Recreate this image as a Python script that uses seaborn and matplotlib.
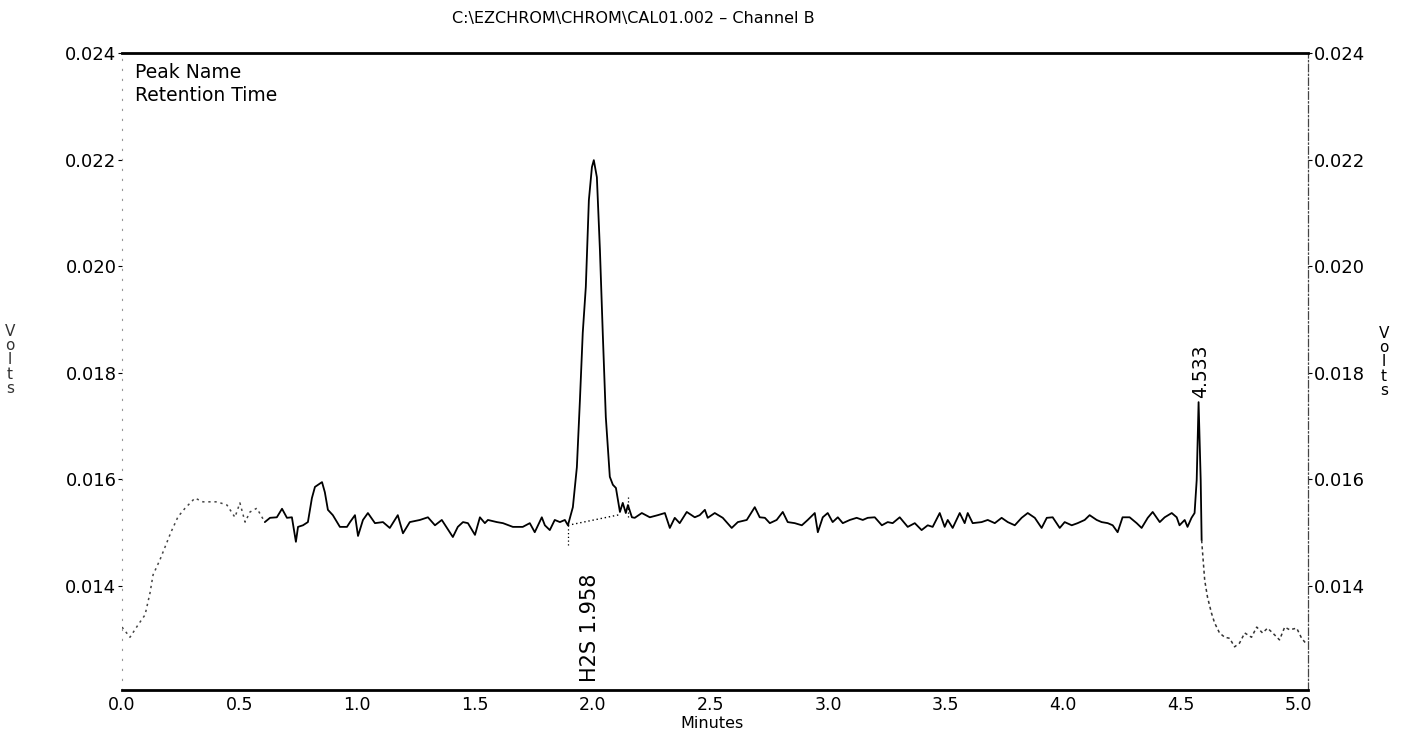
import matplotlib
matplotlib.use("Agg")
import matplotlib.pyplot as plt
import seaborn as sns
import numpy as np
import pandas as pd

# ---------------- data ----------------
time_min = [
    0.000, 0.034, 0.068, 0.098, 0.119, 0.132, 0.161, 0.208, 0.238, 0.268,
    0.310, 0.344, 0.404, 0.446, 0.480, 0.501, 0.523, 0.544, 0.573, 0.607,
    0.629, 0.658, 0.680, 0.701, 0.722, 0.739, 0.748, 0.769, 0.790, 0.807,
    0.820, 0.850, 0.862, 0.875, 0.896, 0.926, 0.956, 0.969, 0.990, 1.003,
    1.024, 1.045, 1.075, 1.109, 1.138, 1.172, 1.194, 1.223, 1.266, 1.300,
    1.330, 1.359, 1.381, 1.406, 1.427, 1.449, 1.470, 1.500, 1.521, 1.542,
    1.555, 1.593, 1.619, 1.661, 1.703, 1.733, 1.754, 1.784, 1.797, 1.818,
    1.839, 1.861, 1.882, 1.895, 1.916, 1.933, 1.946, 1.958, 1.971, 1.984,
    1.997, 2.005, 2.018, 2.031, 2.043, 2.056, 2.073, 2.086, 2.099, 2.116,
    2.128, 2.141, 2.150, 2.167, 2.179, 2.209, 2.243, 2.277, 2.307, 2.328,
    2.349, 2.370, 2.400, 2.434, 2.455, 2.477, 2.489, 2.519, 2.553, 2.591,
    2.617, 2.655, 2.689, 2.710, 2.732, 2.753, 2.782, 2.808, 2.829, 2.859,
    2.889, 2.914, 2.944, 2.957, 2.978, 2.999, 3.020, 3.042, 3.063, 3.093,
    3.122, 3.148, 3.169, 3.199, 3.229, 3.254, 3.275, 3.305, 3.339, 3.369,
    3.398, 3.424, 3.445, 3.475, 3.496, 3.509, 3.530, 3.560, 3.581, 3.594,
    3.615, 3.653, 3.679, 3.709, 3.738, 3.764, 3.794, 3.823, 3.849, 3.879,
    3.908, 3.930, 3.955, 3.985, 4.006, 4.036, 4.061, 4.091, 4.112, 4.142,
    4.163, 4.189, 4.210, 4.231, 4.252, 4.282, 4.312, 4.333, 4.359, 4.380,
    4.410, 4.431, 4.461, 4.482, 4.494, 4.516, 4.528, 4.545, 4.558, 4.567,
    4.575, 4.584, 4.588, 4.601, 4.613, 4.630, 4.643, 4.664, 4.686, 4.707,
    4.728, 4.749, 4.771, 4.800, 4.822, 4.847, 4.868, 4.890, 4.919, 4.941,
    4.962, 4.992, 5.013, 5.030,
]
signal_volts = [
    0.01323, 0.01304, 0.01327, 0.01346, 0.01387, 0.01421, 0.01449, 0.01501, 0.01530, 0.01546,
    0.01565, 0.01558, 0.01558, 0.01552, 0.01529, 0.01556, 0.01520, 0.01539, 0.01546, 0.01520,
    0.01528, 0.01529, 0.01545, 0.01528, 0.01529, 0.01483, 0.01511, 0.01514, 0.01520, 0.01565,
    0.01586, 0.01595, 0.01576, 0.01543, 0.01533, 0.01511, 0.01511, 0.01520, 0.01533, 0.01494,
    0.01524, 0.01537, 0.01518, 0.01520, 0.01509, 0.01533, 0.01499, 0.01520, 0.01524, 0.01529,
    0.01514, 0.01524, 0.01509, 0.01492, 0.01511, 0.01520, 0.01518, 0.01496, 0.01529, 0.01518,
    0.01524, 0.01520, 0.01518, 0.01511, 0.01511, 0.01518, 0.01501, 0.01529, 0.01514, 0.01505,
    0.01524, 0.01520, 0.01524, 0.01514, 0.01548, 0.01623, 0.01749, 0.01875, 0.01961, 0.02124,
    0.02186, 0.02199, 0.02167, 0.02030, 0.01875, 0.01717, 0.01605, 0.01590, 0.01584, 0.01539,
    0.01556, 0.01537, 0.01552, 0.01529, 0.01528, 0.01537, 0.01529, 0.01533, 0.01537, 0.01509,
    0.01528, 0.01518, 0.01539, 0.01529, 0.01533, 0.01543, 0.01528, 0.01537, 0.01528, 0.01509,
    0.01520, 0.01524, 0.01548, 0.01529, 0.01528, 0.01518, 0.01524, 0.01539, 0.01520, 0.01518,
    0.01514, 0.01524, 0.01537, 0.01501, 0.01529, 0.01537, 0.01520, 0.01529, 0.01518, 0.01524,
    0.01528, 0.01524, 0.01528, 0.01529, 0.01514, 0.01520, 0.01518, 0.01529, 0.01511, 0.01518,
    0.01505, 0.01514, 0.01511, 0.01537, 0.01511, 0.01524, 0.01509, 0.01537, 0.01518, 0.01537,
    0.01518, 0.01520, 0.01524, 0.01518, 0.01528, 0.01520, 0.01514, 0.01528, 0.01537, 0.01528,
    0.01509, 0.01528, 0.01529, 0.01509, 0.01520, 0.01514, 0.01518, 0.01524, 0.01533, 0.01524,
    0.01520, 0.01518, 0.01514, 0.01501, 0.01529, 0.01529, 0.01518, 0.01509, 0.01528, 0.01539,
    0.01520, 0.01529, 0.01537, 0.01529, 0.01514, 0.01524, 0.01511, 0.01528, 0.01537, 0.01599,
    0.01745, 0.01599, 0.01486, 0.01411, 0.01379, 0.01349, 0.01331, 0.01312, 0.01304, 0.01302,
    0.01286, 0.01293, 0.01312, 0.01304, 0.01323, 0.01312, 0.01321, 0.01312, 0.01299, 0.01323,
    0.01318, 0.01321, 0.01302, 0.01293,
]

# integration baseline of the H2S peak and its marks
h2s_base_time = [1.895, 2.116]
h2s_base_volts = [0.01514, 0.01534]
h2s_start_mark_volts = [0.01514, 0.01477]
h2s_end_mark_time = 2.150
h2s_end_mark_volts = [0.01529, 0.01567]

peak_labels = ["H2S 1.958", "4.533"]
peak_label_time = [1.987, 4.584]
peak_label_volts = [0.01220, 0.01752]

x_ticks = [0.0, 0.5, 1.0, 1.5, 2.0, 2.5, 3.0, 3.5, 4.0, 4.5, 5.0]
y_ticks = [0.014, 0.016, 0.018, 0.020, 0.022, 0.024]

title = "C:\\EZCHROM\\CHROM\\CAL01.002 \u2013 Channel B"

# ---------------- figure ----------------
sns.set_style("white")
plt.rcParams['font.family'] = ['DejaVu Sans']
plt.rcParams['text.color'] = 'black'
plt.rcParams['xtick.color'] = 'black'
plt.rcParams['ytick.color'] = 'black'
plt.rcParams['xtick.labelcolor'] = 'black'
plt.rcParams['ytick.labelcolor'] = 'black'

W, H = 1418, 732
fig = plt.figure(figsize=(W / 100, H / 100), dpi=100)
ax = fig.add_axes([122 / W, 1 - 690 / H, (1308 - 122) / W, (690 - 53) / H])

df = pd.DataFrame({"t": time_min, "v": signal_volts})
pre = df[df.t <= 0.61]
main = df[(df.t >= 0.607) & (df.t <= 4.588)]
post = df[df.t >= 4.588]

sns.lineplot(data=pre, x="t", y="v", ax=ax, estimator=None, sort=False,
             color="#444444", lw=1.1, linestyle=(0, (1.5, 2.5)))
sns.lineplot(data=main, x="t", y="v", ax=ax, estimator=None, sort=False,
             color="black", lw=1.3)
sns.lineplot(data=post, x="t", y="v", ax=ax, estimator=None, sort=False,
             color="#333333", lw=1.1, linestyle=(0, (2, 2)))

# baseline & marks
ax.plot(h2s_base_time, h2s_base_volts, color="black", lw=1.0, linestyle=(0, (1, 2)))
ax.plot([h2s_base_time[0]] * 2, h2s_start_mark_volts, color="black", lw=0.9, linestyle=(0, (1, 2)))
ax.plot([h2s_end_mark_time] * 2, h2s_end_mark_volts, color="black", lw=0.9, linestyle=(0, (1, 2)))

label_sizes = [15, 13.5]
for lab, xt, yv, fs in zip(peak_labels, peak_label_time, peak_label_volts, label_sizes):
    ax.text(xt, yv, lab, rotation=90, ha="center", va="bottom", fontsize=fs, color="black")

ax.set_xlim(0.0, 5.04)
ax.set_ylim(0.01205, 0.024)
ax.set_xticks(x_ticks)
ax.set_xticklabels([f"{v:.1f}" for v in x_ticks], fontsize=12.5)
ax.set_yticks(y_ticks)
ax.set_yticklabels([f"{v:.3f}" for v in y_ticks], fontsize=13)
ax.tick_params(axis="x", length=0, pad=4)
ax.tick_params(axis="y", which="both", left=True, right=True, labelleft=True,
               labelright=True, length=3, width=0.8, pad=1, direction="out")
ax.set_xlabel("")
ax.set_ylabel("")

# spines
for s in ax.spines.values():
    s.set_visible(True)
ax.spines["top"].set_linewidth(2.0)
ax.spines["top"].set_color("black")
ax.spines["bottom"].set_linewidth(2.0)
ax.spines["bottom"].set_color("black")
ax.spines["left"].set_linewidth(0.8)
ax.spines["left"].set_color("#999999")
ax.spines["left"].set_linestyle((0, (1, 8)))
ax.spines["right"].set_linewidth(0.9)
ax.spines["right"].set_color("#444444")
ax.spines["right"].set_linestyle((0, (6, 2, 1, 2)))

fig.text(633 / W, 1 - 18 / H, title, ha="center", va="center", fontsize=11.5)
fig.text(712 / W, 1 - 724 / H, "Minutes", ha="center", va="center", fontsize=11.5)
ax.text(0.011, 0.985, "Peak Name\nRetention Time", transform=ax.transAxes,
        ha="left", va="top", fontsize=13.5, linespacing=1.3)
fig.text(10 / W, 1 - 360 / H, "V\no\nl\nt\ns", ha="center", va="center",
         fontsize=11, linespacing=0.95, color="#333333")
fig.text(1384 / W, 1 - 362 / H, "V\no\nl\nt\ns", ha="center", va="center",
         fontsize=11, linespacing=0.95, color="black")

fig.savefig("out.png", dpi=100, facecolor="white")
